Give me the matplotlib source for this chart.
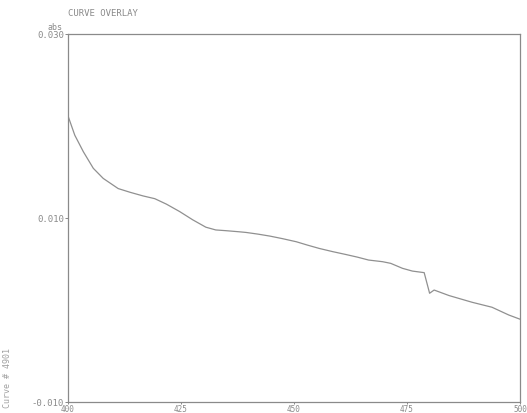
import matplotlib
matplotlib.use("Agg")
import matplotlib.pyplot as plt

wavelength = [400.0, 401.5, 403.4, 405.6, 407.8, 411.1, 413.7, 416.6, 419.2, 421.8,
              424.7, 427.6, 430.5, 432.7, 435.0, 437.9, 439.4, 442.0, 444.7, 447.5,
              450.5, 453.0, 455.6, 458.5, 461.4, 464.0, 466.5, 469.6, 471.4, 474.0,
              476.2, 478.8, 480.0, 481.0, 484.3, 489.4, 493.8, 497.5, 500.0]
absorbance = [0.0211, 0.0190, 0.0172, 0.0154, 0.0143, 0.0132, 0.0128, 0.0124, 0.0121, 0.0115,
              0.0107, 0.0098, 0.0090, 0.0087, 0.00862, 0.00850, 0.00843, 0.00825, 0.00803, 0.00775,
              0.00742, 0.00705, 0.00669, 0.00635, 0.00604, 0.00575, 0.00543, 0.00525, 0.00507, 0.00453,
              0.00423, 0.00406, 0.00182, 0.00217, 0.00157, 0.00084, 0.00030, -0.00054, -0.0010]

x_ticks = [400, 425, 450, 475, 500]
y_ticks = [-0.010, 0.010, 0.030]
y_tick_labels = ["-0.010", "0.010", "0.030"]

txt = "#8a8a8a"
plt.rcParams['font.family'] = ['DejaVu Sans Mono']

fig = plt.figure(figsize=(5.27, 4.14), dpi=100)
ax = fig.add_axes([68/527, 1 - 403/414, (520 - 68)/527, (403 - 35)/414])
ax.plot(wavelength, absorbance, color="#909090", lw=0.9)
ax.set_xlim(400, 500)
ax.set_ylim(-0.010, 0.030)
ax.set_xticks(x_ticks)
ax.set_xticklabels([str(t) for t in x_ticks])
ax.set_yticks(y_ticks)
ax.set_yticklabels(y_tick_labels)
ax.tick_params(axis='y', labelsize=6.5, colors="#888888", labelcolor=txt,
               length=2.5, width=0.7, direction='out', pad=0.5)
ax.tick_params(axis='x', labelsize=5.5, colors="#888888", labelcolor=txt,
               length=1.5, width=0.7, direction='out', pad=0)
for s in ax.spines.values():
    s.set_color("#8a8a8a")
    s.set_linewidth(0.9)

fig.text(68/527, 1 - 14/414, "CURVE OVERLAY", fontsize=6.5, color=txt, va='center', ha='left')
fig.text(62/527, 1 - 28/414, "abs", fontsize=6, color=txt, va='center', ha='right')
fig.text(8/527, 1 - 378/414, "Curve # 4901", fontsize=6, color="#a0a0a0", rotation=90,
         va='center', ha='center')

fig.savefig("out.png", dpi=100)
